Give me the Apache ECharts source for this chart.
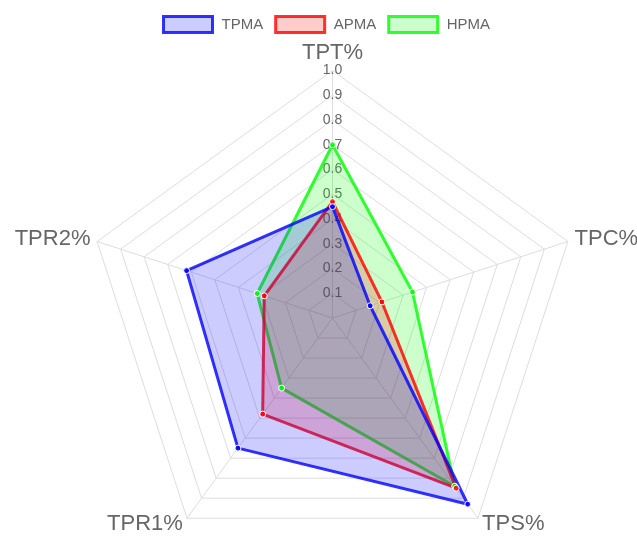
<!DOCTYPE html>
<html>
<head>
<meta charset="utf-8">
<script src="https://cdn.jsdelivr.net/npm/echarts@6/dist/echarts.min.js"></script>
<style>
  html, body { margin: 0; padding: 0; background: #fff; }
  #chart { width: 637px; height: 543px; }
</style>
</head>
<body>
<div id="chart"></div>
<script>
// indicators in echarts order (counterclockwise from top)
const indicators = ['TPT%', 'TPR2%', 'TPR1%', 'TPS%', 'TPC%']
const tpma = [0.45, 0.62, 0.65, 0.93, 0.16]
const apma = [0.47, 0.29, 0.48, 0.85, 0.21]
const hpma = [0.70, 0.32, 0.35, 0.84, 0.34]
const seriesNames = ['TPMA', 'APMA', 'HPMA']

const colors = {
  TPMA: { line: 'rgba(0,0,255,0.8)', fill: 'rgba(0,0,255,0.2)' },
  APMA: { line: 'rgba(255,0,0,0.8)', fill: 'rgba(255,0,0,0.2)' },
  HPMA: { line: 'rgba(0,255,0,0.8)', fill: 'rgba(0,255,0,0.2)' }
}

function makeSeries(name, values) {
  const c = colors[name]
  return {
    name: name,
    type: 'radar',
    symbol: 'circle',
    symbolSize: 6,
    lineStyle: { color: c.line, width: 3 },
    itemStyle: { color: c.line, borderColor: '#fff', borderWidth: 1 },
    areaStyle: { color: c.fill, opacity: 1 },
    data: [{ name: name, value: values }]
  }
}

const chart = echarts.init(document.getElementById('chart'))
chart.setOption({
  animation: false,
  legend: {
    top: 10,
    left: 157,
    icon: 'rect',
    itemWidth: 49,
    itemHeight: 16,
    itemGap: 11,
    textStyle: { color: '#666', fontSize: 15, padding: [0, 0, 0, 4] },
    data: seriesNames.map(n => ({
      name: n,
      itemStyle: { color: colors[n].fill, borderColor: colors[n].line, borderWidth: 3 }
    }))
  },
  radar: {
    center: [332.5, 318],
    radius: 247.5,
    startAngle: 90,
    splitNumber: 10,
    shape: 'polygon',
    nameGap: 7,
    axisName: { color: '#666', fontSize: 22 },
    splitLine: { lineStyle: { color: '#dddddd', width: 1 } },
    axisLine: { lineStyle: { color: '#dddddd', width: 1 } },
    splitArea: { show: false },
    axisLabel: { show: false },
    indicator: indicators.map((name, i) => {
      const ind = { name: name, min: 0, max: 1 }
      if (i === 0) {
        ind.axisLabel = {
          show: true,
          showMinLabel: false,
          color: '#666',
          fontSize: 14,
          margin: 0,
          align: 'center',
          formatter: v => v.toFixed(1)
        }
      }
      return ind
    })
  },
  series: [
    makeSeries('HPMA', hpma),
    makeSeries('APMA', apma),
    makeSeries('TPMA', tpma)
  ]
})
</script>
</body>
</html>
